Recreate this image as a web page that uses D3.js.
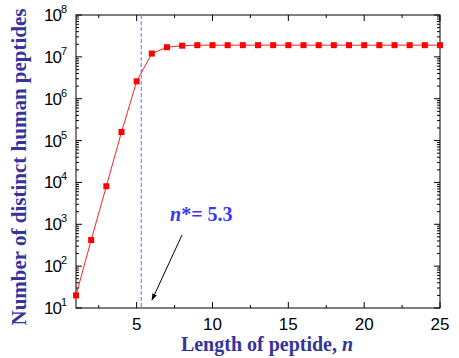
<!DOCTYPE html>
<html lang="en">
<head>
<meta charset="UTF-8">
<title>Distinct human peptides</title>
<style>
    body { margin: 0; background: #fff; }
    svg { display: block; }
</style>
</head>
<body>
<svg id="chart" width="459" height="358"></svg>
<script src="https://d3js.org/d3.v7.min.js"></script>
<script>
    // peptide length n and number of distinct peptides
    const lengths = [1, 2, 3, 4, 5, 6, 7, 8, 9, 10, 11, 12, 13, 14, 15, 16, 17, 18, 19, 20, 21, 22, 23, 24, 25];
    const counts = [20, 420, 8100, 1.6e5, 2.6e6, 1.2e7, 1.7e7, 1.85e7, 1.9e7, 1.9e7, 1.9e7, 1.9e7, 1.9e7,
                    1.9e7, 1.9e7, 1.9e7, 1.9e7, 1.9e7, 1.9e7, 1.9e7, 1.9e7, 1.9e7, 1.9e7, 1.9e7, 1.9e7];
    const xTicks = [5, 10, 15, 20, 25];
    const yExponents = [1, 2, 3, 4, 5, 6, 7, 8];
    const nStar = 5.3;

    const svg = d3.select("#chart");
    const pLeft = 76, pRight = 440, pTop = 15, pBottom = 308;

    const x = d3.scaleLinear().domain([1, 25]).range([pLeft, pRight]);
    const y = d3.scaleLog().domain([10, 1e8]).range([pBottom, pTop]);

    // minor ticks
    const xMinor = d3.range(2.5, 25, 5);
    const yMinor = [];
    for (let e = 1; e < 8; e++) for (let m = 2; m <= 9; m++) yMinor.push(m * Math.pow(10, e));

    const tickG = svg.append("g").attr("stroke", "#000").attr("stroke-width", 1);
    xTicks.forEach(t => {
        tickG.append("line").attr("x1", x(t)).attr("x2", x(t)).attr("y1", pBottom).attr("y2", pBottom - 6);
        tickG.append("line").attr("x1", x(t)).attr("x2", x(t)).attr("y1", pTop).attr("y2", pTop + 6);
    });
    xMinor.forEach(t => {
        tickG.append("line").attr("x1", x(t)).attr("x2", x(t)).attr("y1", pBottom).attr("y2", pBottom - 3);
        tickG.append("line").attr("x1", x(t)).attr("x2", x(t)).attr("y1", pTop).attr("y2", pTop + 3);
    });
    yExponents.forEach(e => {
        const v = Math.pow(10, e);
        tickG.append("line").attr("x1", pLeft).attr("x2", pLeft + 6).attr("y1", y(v)).attr("y2", y(v));
        tickG.append("line").attr("x1", pRight).attr("x2", pRight - 6).attr("y1", y(v)).attr("y2", y(v));
    });
    yMinor.forEach(v => {
        tickG.append("line").attr("x1", pLeft).attr("x2", pLeft + 3).attr("y1", y(v)).attr("y2", y(v));
        tickG.append("line").attr("x1", pRight).attr("x2", pRight - 3).attr("y1", y(v)).attr("y2", y(v));
    });

    // frame
    svg.append("rect")
        .attr("x", pLeft).attr("y", pTop)
        .attr("width", pRight - pLeft).attr("height", pBottom - pTop)
        .attr("fill", "none").attr("stroke", "#000").attr("stroke-width", 1);

    // tick labels
    svg.append("g").selectAll("text")
        .data(xTicks).enter().append("text")
        .attr("x", d => x(d)).attr("y", pBottom + 22)
        .attr("text-anchor", "middle")
        .attr("font-family", "Liberation Sans, Arial, sans-serif")
        .attr("font-size", 17)
        .text(d => d);

    const yl = svg.append("g").selectAll("text")
        .data(yExponents).enter().append("text")
        .attr("x", pLeft - 9).attr("y", d => y(Math.pow(10, d)) + 6)
        .attr("text-anchor", "end")
        .attr("font-family", "Liberation Sans, Arial, sans-serif")
        .attr("font-size", 17)
        .attr("letter-spacing", -1);
    yl.append("tspan").text("10");
    yl.append("tspan").attr("dy", -8).attr("font-size", 11).attr("letter-spacing", 0).text(d => d);

    // n* line
    svg.append("line")
        .attr("x1", x(nStar)).attr("x2", x(nStar))
        .attr("y1", pTop).attr("y2", pBottom)
        .attr("stroke", "#6a6af0").attr("stroke-width", 1)
        .attr("stroke-dasharray", "4,2");

    // data line and markers
    const pts = lengths.map((n, i) => [n, counts[i]]);
    svg.append("path")
        .datum(pts)
        .attr("fill", "none").attr("stroke", "#ff2020").attr("stroke-width", 1)
        .attr("d", d3.line().x(d => x(d[0])).y(d => y(d[1])));
    svg.append("g").selectAll("rect")
        .data(pts).enter().append("rect")
        .attr("x", d => x(d[0]) - 3).attr("y", d => y(d[1]) - 3)
        .attr("width", 6).attr("height", 6)
        .attr("fill", "#ff0000");

    // annotation
    svg.append("defs").append("marker")
        .attr("id", "arrow").attr("viewBox", "0 0 10 10")
        .attr("refX", 9).attr("refY", 5)
        .attr("markerWidth", 7).attr("markerHeight", 7)
        .attr("orient", "auto")
        .append("path").attr("d", "M0,1.5 L10,5 L0,8.5 Z").attr("fill", "#000");
    svg.append("line")
        .attr("x1", 182).attr("y1", 235).attr("x2", 152).attr("y2", 300)
        .attr("stroke", "#000").attr("stroke-width", 1)
        .attr("marker-end", "url(#arrow)");

    const ann = svg.append("text")
        .attr("x", 170).attr("y", 221)
        .attr("font-family", "Liberation Serif, Times New Roman, serif")
        .attr("font-weight", "bold").attr("font-size", 20)
        .attr("fill", "#3838f8");
    ann.append("tspan").attr("font-style", "italic").text("n");
    ann.append("tspan").text("*= " + nStar);

    // axis titles
    const xt = svg.append("text")
        .attr("x", 267).attr("y", 351)
        .attr("text-anchor", "middle")
        .attr("font-family", "Liberation Serif, Times New Roman, serif")
        .attr("font-weight", "bold").attr("font-size", 20)
        .attr("fill", "#34349a");
    xt.append("tspan").text("Length of peptide, ");
    xt.append("tspan").attr("font-style", "italic").text("n");

    svg.append("text")
        .attr("transform", "translate(26,167) rotate(-90)")
        .attr("text-anchor", "middle")
        .attr("font-family", "Liberation Serif, Times New Roman, serif")
        .attr("font-weight", "bold").attr("font-size", 21)
        .attr("fill", "#34349a")
        .text("Number of distinct human peptides");
</script>
</body>
</html>
